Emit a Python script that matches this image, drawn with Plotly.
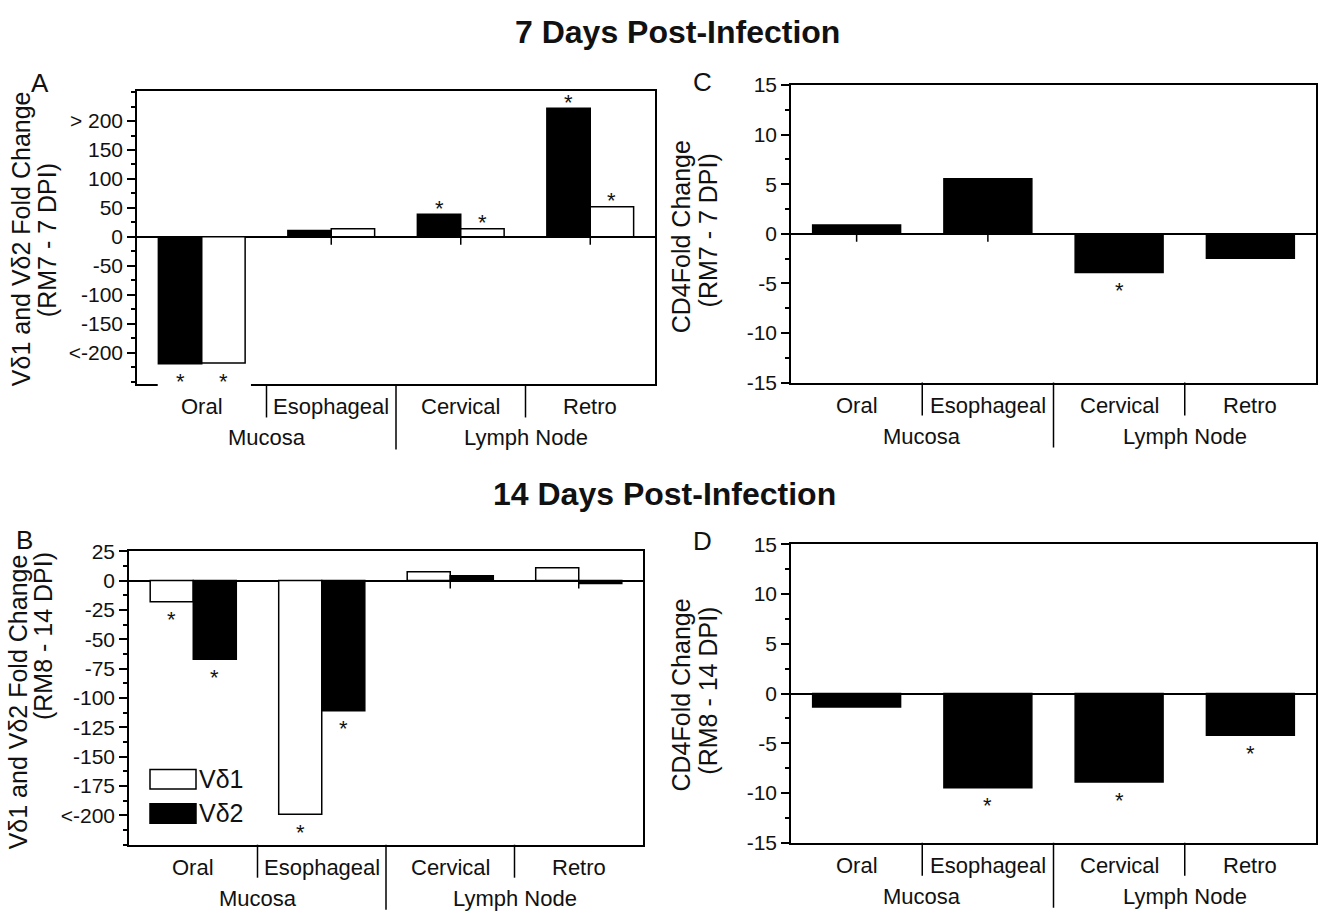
import plotly.graph_objects as go

# ---------------- data ----------------
categories = ["Oral", "Esophageal", "Cervical", "Retro"]
groups = ["Mucosa", "Lymph Node"]

# Panel A (7 DPI, RM7) - black bar first, white bar second
a_vd2 = [-219, 11, 39, 222]
a_vd1 = [-218, 14, 14, 52]
a_sig_vd2 = ["*", "", "*", "*"]
a_sig_vd1 = ["*", "", "*", "*"]
a_tickvals = [-200, -150, -100, -50, 0, 50, 100, 150, 200]
a_ticktext = ["<-200", "-150", "-100", "-50", "0", "50", "100", "150", "> 200"]

# Panel B (14 DPI, RM8) - white bar first, black bar second
b_vd1 = [-18, -199, 7.5, 11]
b_vd2 = [-67, -111, 4, -2.5]
b_sig_vd1 = ["*", "*", "", ""]
b_sig_vd2 = ["*", "*", "", ""]
b_tickvals = [-200, -175, -150, -125, -100, -75, -50, -25, 0, 25]
b_ticktext = ["<-200", "-175", "-150", "-125", "-100", "-75", "-50", "-25", "0", "25"]

# Panels C and D (CD4)
c_cd4 = [0.9, 5.55, -3.9, -2.47]
c_sig = ["", "", "*", ""]
d_cd4 = [-1.34, -9.48, -8.9, -4.18]
d_sig = ["", "*", "*", "*"]
cd_tickvals = [-15, -10, -5, 0, 5, 10, 15]

FONT = "Liberation Sans, Arial, sans-serif"
TXT = "#111111"
W, H = 1326, 922
BARGAP = 0.33

def px(x):
    return x / W

def py(y):
    return 1 - y / H

fig = go.Figure()

def bar(x, y, color, xa, ya, name):
    return go.Bar(
        x=x, y=y, name=name, xaxis=xa, yaxis=ya,
        marker=dict(color=color, line=dict(color="black", width=1.5)),
        cliponaxis=False, showlegend=False, hoverinfo="x+y",
    )

# (values, colour, significance, axes, name, slot index, slots in group)
series = [
    (a_vd2, "black", a_sig_vd2, "x", "y", "Vδ2", 0, 2),
    (a_vd1, "white", a_sig_vd1, "x", "y", "Vδ1", 1, 2),
    (b_vd1, "white", b_sig_vd1, "x2", "y2", "Vδ1", 0, 2),
    (b_vd2, "black", b_sig_vd2, "x2", "y2", "Vδ2", 1, 2),
    (c_cd4, "black", c_sig, "x3", "y3", "CD4", 0, 1),
    (d_cd4, "black", d_sig, "x4", "y4", "CD4", 0, 1),
]

annotations = []
for vals, col, sig, xa, ya, name, slot, nslots in series:
    fig.add_trace(bar(categories, vals, col, xa, ya, name))
    w = (1 - BARGAP) / nslots
    for i, (v, s) in enumerate(zip(vals, sig)):
        if not s:
            continue
        xc = i - (1 - BARGAP) / 2 + w * (slot + 0.5)
        annotations.append(dict(
            x=xc, y=v, xref=xa, yref=ya, text=s, showarrow=False,
            xanchor="center", yanchor="middle",
            yshift=6 if v > 0 else -18,
            font=dict(family=FONT, size=22, color=TXT)))

panels = {
    # name: (xdomain px, ydomain px (top,bottom), range, tickvals, ticktext, minor dtick)
    "1": ((137, 655), (81, 382), [-255, 252], a_tickvals, a_ticktext, 25),
    "2": ((129, 643), (553, 854), [-225, 25], b_tickvals, b_ticktext, 12.5),
    "3": ((791, 1316), (75, 380), [-15, 15], cd_tickvals, [str(v) for v in cd_tickvals], 2.5),
    "4": ((791, 1316), (546, 852), [-15, 15], cd_tickvals, [str(v) for v in cd_tickvals], 2.5),
}

layout_axes = {}
shapes = []
for k, (xd, yd, rng, tv, tt, mdt) in panels.items():
    sx = "" if k == "1" else k
    layout_axes["xaxis" + sx] = dict(
        domain=[px(xd[0]), px(xd[1])], anchor="y" + sx, type="category",
        categoryorder="array", categoryarray=categories,
        range=[-0.5, 3.5], showline=True, mirror=True, linecolor="black",
        linewidth=1.5, ticks="", showticklabels=False, showgrid=False,
        zeroline=False, fixedrange=True,
    )
    layout_axes["yaxis" + sx] = dict(
        domain=[py(yd[1]), py(yd[0])], anchor="x" + sx, range=rng,
        tickvals=tv, ticktext=tt, ticks="outside", ticklen=8, tickwidth=1.5,
        tickcolor="black", minor=dict(dtick=mdt, tick0=0, ticks="outside",
                                      ticklen=4, tickwidth=1.5, tickcolor="black"),
        showline=True, mirror=True, linecolor="black", linewidth=1.5,
        zeroline=True, zerolinecolor="black", zerolinewidth=1.5,
        showgrid=False, tickfont=dict(family=FONT, size=21, color=TXT),
        fixedrange=True,
    )
    xr, yr = "x" + sx, "y" + sx
    # category ticks on the zero line
    for i in range(len(categories)):
        shapes.append(dict(type="line", xref=xr, yref=yr, ysizemode="pixel",
                           yanchor=0, x0=i, x1=i, y0=0, y1=-8,
                           line=dict(color="black", width=1.5), layer="below"))
    # separators below the axis
    for i in range(len(categories) - 1):
        length = 65 if i == 1 else 33
        shapes.append(dict(type="line", xref=xr, yref=yr + " domain",
                           ysizemode="pixel", yanchor=0, x0=i + 0.5, x1=i + 0.5,
                           y0=0, y1=-length, line=dict(color="black", width=1.5)))
    # category labels
    for c in categories:
        annotations.append(dict(x=c, y=0, xref=xr, yref=yr + " domain",
                                text=c, showarrow=False, xanchor="center", yanchor="top",
                                yshift=-8, font=dict(family=FONT, size=22, color=TXT)))
    # group labels
    for j, g in enumerate(groups):
        annotations.append(dict(x=0.5 + 2 * j, y=0, xref=xr, yref=yr + " domain",
                                text=g, showarrow=False, xanchor="center", yanchor="top",
                                yshift=-39, font=dict(family=FONT, size=22, color=TXT)))

# gap in the bottom border of panel A below the Oral stars
shapes.append(dict(type="rect", xref="x", yref="y domain", x0=-0.34, x1=0.38,
                   y0=-0.006, y1=0.006, fillcolor="white", line=dict(width=0),
                   layer="above"))

# manual legend in panel B
shapes.append(dict(type="rect", xref="paper", yref="paper",
                   x0=px(150), x1=px(196), y0=py(797), y1=py(777),
                   fillcolor="white", line=dict(color="black", width=1.5)))
shapes.append(dict(type="rect", xref="paper", yref="paper",
                   x0=px(150), x1=px(196), y0=py(832), y1=py(812),
                   fillcolor="black", line=dict(color="black", width=1.5)))
annotations.append(dict(x=px(197), y=py(787), xref="paper", yref="paper",
                        text="Vδ1", showarrow=False, xanchor="left", yanchor="middle",
                        font=dict(family=FONT, size=25, color=TXT)))
annotations.append(dict(x=px(197), y=py(822), xref="paper", yref="paper",
                        text="Vδ2", showarrow=False, xanchor="left", yanchor="middle",
                        font=dict(family=FONT, size=25, color=TXT)))

# titles
annotations.append(dict(x=px(677), y=py(20), xref="paper", yref="paper",
                        text="<b>7 Days Post-Infection</b>", showarrow=False,
                        xanchor="center", yanchor="middle",
                        font=dict(family=FONT, size=32, color=TXT)))
annotations.append(dict(x=px(664), y=py(494), xref="paper", yref="paper",
                        text="<b>14 Days Post-Infection</b>", showarrow=False,
                        xanchor="center", yanchor="middle",
                        font=dict(family=FONT, size=32, color=TXT)))

# panel letters
for letter, (lx, ly) in {"A": (40, 73), "B": (24, 542), "C": (702, 72), "D": (702, 543)}.items():
    annotations.append(dict(x=px(lx), y=py(ly), xref="paper", yref="paper",
                            text=letter, showarrow=False,
                            xanchor="center", yanchor="middle",
                            font=dict(family=FONT, size=26, color=TXT)))

# axis titles (two lines each)
ytitles = [
    ("Vδ1 and Vδ2 Fold Change", 21, 233),
    ("(RM7 - 7 DPI)", 47, 234),
    ("Vδ1 and Vδ2 Fold Change", 18, 708),
    ("(RM8 - 14 DPI)", 43, 640),
    ("CD4Fold Change", 681, 230),
    ("(RM7 - 7 DPI)", 708, 224),
    ("CD4Fold Change", 681, 700),
    ("(RM8 - 14 DPI)", 708, 696),
]
for t, tx, ty in ytitles:
    annotations.append(dict(x=px(tx), y=py(ty), xref="paper", yref="paper",
                            text=t, showarrow=False, textangle=-90,
                            xanchor="center", yanchor="middle",
                            font=dict(family=FONT, size=25, color=TXT)))

fig.update_layout(
    width=W, height=H, margin=dict(l=0, r=0, t=0, b=0),
    paper_bgcolor="white", plot_bgcolor="white",
    barmode="group", bargap=BARGAP, bargroupgap=0,
    showlegend=False, shapes=shapes, annotations=annotations,
    font=dict(family=FONT, color=TXT),
    **layout_axes,
)

fig.write_html("out.html")
